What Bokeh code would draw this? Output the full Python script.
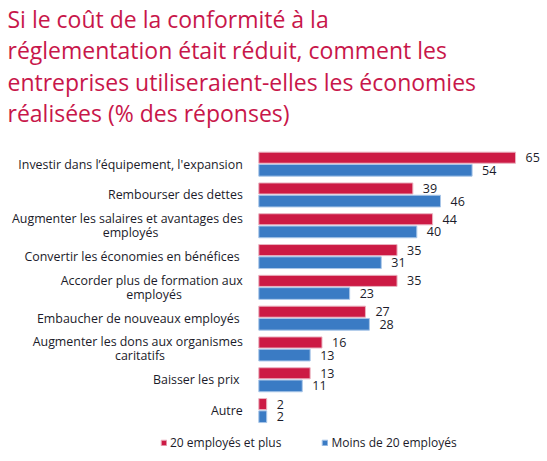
from bokeh.plotting import figure
from bokeh.models import Range1d, ColumnDataSource, Legend, LegendItem, Label
from bokeh.core.properties import value
from bokeh.embed import file_html
from bokeh.resources import INLINE

# Survey answers (% of responses) for each use of savings
categories = [
    "Investir dans l\u2019équipement, l'expansion",
    "Rembourser des dettes",
    "Augmenter les salaires et avantages des\nemployés",
    "Convertir les économies en bénéfices ",
    "Accorder plus de formation aux\nemployés",
    "Embaucher de nouveaux employés ",
    "Augmenter les dons aux organismes\ncaritatifs",
    "Baisser les prix ",
    "Autre",
]
big_firms = [65, 39, 44, 35, 35, 27, 16, 13, 2]     # 20 employés et plus
small_firms = [54, 46, 40, 31, 23, 28, 13, 11, 2]   # Moins de 20 employés
series_names = ["20 employés et plus", "Moins de 20 employés"]

title_text = ("Si le coût de la conformité à la\n"
              "réglementation était réduit, comment les\n"
              "entreprises utiliseraient-elles les économies\n"
              "réalisées (% des réponses)")

RED = "#cc1a44"
BLUE = "#3a7bc4"
TITLE_RED = "#c8164a"
INK = "#1b1b2a"
FONT = "Open Sans"

W, H = 547, 461
PX_PER_UNIT_X = 3.95   # px per percentage point
BAR_X0 = 258.3         # px where bars start
ROW_PX = 30.8          # px per category row
ROW0_PX = 163.5        # px centre of the first row
LINE_PX = 7            # half spacing of two-line labels
# horizontal centre (px from bar origin) for the wrapped second line
WRAP_CENTRE = {2: -128.3, 4: -104.8, 6: -118.8}

idx = list(range(len(categories)))
off = 0.205
src = ColumnDataSource(dict(
    y_big=[i - off for i in idx],
    y_small=[i + off for i in idx],
    big=big_firms,
    small=small_firms,
    big_lbl=[str(v) for v in big_firms],
    small_lbl=[str(v) for v in small_firms],
))

# split wrapped category names into first / second lines
one_y, one_txt, one_dy = [], [], []
two_y, two_txt, two_dx = [], [], []
for i, name in enumerate(categories):
    parts = name.split("\n")
    one_y.append(i)
    one_txt.append(parts[0])
    one_dy.append(-LINE_PX if len(parts) > 1 else 0)
    if len(parts) > 1:
        two_y.append(i)
        two_txt.append(parts[1])
        two_dx.append(WRAP_CENTRE[i])
first_src = ColumnDataSource(dict(y=one_y, x=[0] * len(one_y), t=one_txt, dy=one_dy))
second_src = ColumnDataSource(dict(y=two_y, x=[0] * len(two_y), t=two_txt, dx=two_dx))

x_start = -BAR_X0 / PX_PER_UNIT_X
x_end = (W - BAR_X0) / PX_PER_UNIT_X
y_top = -ROW0_PX / ROW_PX
y_bottom = (H - ROW0_PX) / ROW_PX

p = figure(width=W, height=H, output_backend="svg", toolbar_location=None,
           x_range=Range1d(x_start, x_end), y_range=Range1d(y_bottom, y_top),
           min_border=0, outline_line_color=None)
p.axis.visible = False
p.grid.visible = False
p.background_fill_color = "white"
p.border_fill_color = "white"

title = Label(x=7, y=H - 2, x_units="screen", y_units="screen", text=title_text,
              text_font=FONT, text_font_size="23px", text_color=TITLE_RED,
              text_align="left", text_baseline="top", text_line_height=0.985)
p.add_layout(title)

r_big = p.hbar(y="y_big", left=0, right="big", height=0.36, source=src,
               fill_color=RED, line_color="#eab3c0", line_width=1)
r_small = p.hbar(y="y_small", left=0, right="small", height=0.38, source=src,
                 fill_color=BLUE, line_color="#a9c6e8", line_width=1)

# value labels at bar ends
p.text(x="big", y="y_big", text="big_lbl", source=src, x_offset=10,
       text_align="left", text_baseline="middle", text_font=value(FONT),
       text_font_size="12.5px", text_color=INK)
p.text(x="small", y="y_small", text="small_lbl", source=src, x_offset=10,
       text_align="left", text_baseline="middle", text_font=value(FONT),
       text_font_size="12.5px", text_color=INK)

# category labels left of the bars
p.text(x="x", y="y", text="t", source=first_src, x_offset=-16, y_offset="dy",
       text_align="right", text_baseline="middle", text_font=value(FONT),
       text_font_size="12.4px", text_color=INK)
p.text(x="x", y="y", text="t", source=second_src, x_offset="dx", y_offset=LINE_PX,
       text_align="center", text_baseline="middle", text_font=value(FONT),
       text_font_size="12.4px", text_color=INK)

legend = Legend(items=[LegendItem(label=series_names[0], renderers=[r_big]),
                       LegendItem(label=series_names[1], renderers=[r_small])],
                orientation="horizontal", location=(160, 10),
                glyph_width=7, glyph_height=7, label_standoff=3, spacing=40,
                padding=0, margin=0, border_line_alpha=0, background_fill_alpha=0,
                label_text_font=FONT, label_text_font_size="12px",
                label_text_color=INK, label_height=14)
p.add_layout(legend)

open("out.html", "w").write(file_html(p, INLINE))
